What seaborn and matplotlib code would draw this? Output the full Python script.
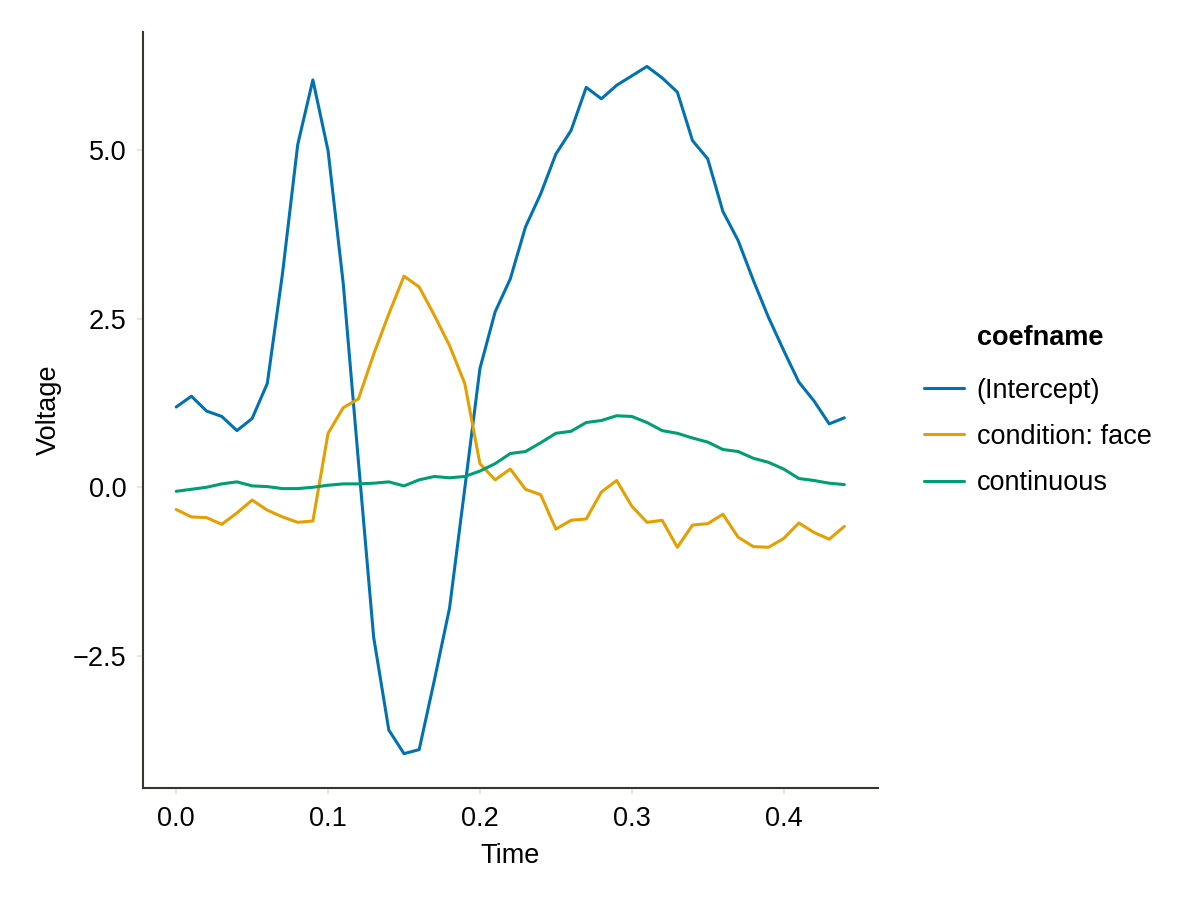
import numpy as np
import pandas as pd
import matplotlib
matplotlib.use("Agg")
import matplotlib.pyplot as plt
import seaborn as sns
from matplotlib.lines import Line2D

time = [round(i * 0.01, 2) for i in range(45)]

intercept = [1.19, 1.35, 1.13, 1.05, 0.84, 1.02, 1.54, 3.17, 5.08, 6.04,
             4.99, 3.02, 0.38, -2.22, -3.60, -3.95, -3.89, -2.86, -1.79, -0.02,
             1.76, 2.60, 3.09, 3.86, 4.35, 4.94, 5.29, 5.93, 5.76, 5.96,
             6.10, 6.24, 6.07, 5.86, 5.14, 4.87, 4.09, 3.66, 3.07, 2.52,
             2.03, 1.56, 1.28, 0.94, 1.03]

condition_face = [-0.33, -0.44, -0.45, -0.55, -0.38, -0.19, -0.34, -0.44, -0.52, -0.50,
                  0.80, 1.18, 1.31, 1.97, 2.57, 3.13, 2.97, 2.55, 2.10, 1.54,
                  0.35, 0.11, 0.27, -0.03, -0.11, -0.62, -0.49, -0.47, -0.07, 0.10,
                  -0.28, -0.52, -0.49, -0.89, -0.56, -0.54, -0.40, -0.74, -0.88, -0.89,
                  -0.76, -0.53, -0.67, -0.77, -0.58]

continuous = [-0.06, -0.03, 0.00, 0.05, 0.08, 0.02, 0.01, -0.02, -0.02, 0.00,
              0.03, 0.05, 0.05, 0.06, 0.08, 0.02, 0.11, 0.16, 0.14, 0.16,
              0.24, 0.35, 0.50, 0.53, 0.66, 0.80, 0.83, 0.96, 0.99, 1.06,
              1.05, 0.96, 0.84, 0.80, 0.73, 0.67, 0.56, 0.53, 0.43, 0.37,
              0.27, 0.13, 0.10, 0.06, 0.04]

coefnames = ["(Intercept)", "condition: face", "continuous"]
series = [intercept, condition_face, continuous]
colors = ["#0072B2", "#E69F00", "#009E73"]
xticks = [0.0, 0.1, 0.2, 0.3, 0.4]
xticklabels = ["0.0", "0.1", "0.2", "0.3", "0.4"]
yticks = [-2.5, 0.0, 2.5, 5.0]
yticklabels = ["\u22122.5", "0.0", "2.5", "5.0"]

df = pd.concat([
    pd.DataFrame({"time": time, "estimate": vals, "coefname": name})
    for name, vals in zip(coefnames, series)
], ignore_index=True)

sns.set_theme(style="white")
plt.rcParams["font.family"] = ["Liberation Sans", "DejaVu Sans"]
plt.rcParams["text.color"] = "black"
plt.rcParams["axes.labelcolor"] = "black"

FS = 19.5

fig = plt.figure(figsize=(12, 9), dpi=100)
ax = fig.add_axes([0.119, 0.1244, 0.6125, 0.84])

sns.lineplot(data=df, x="time", y="estimate", hue="coefname",
             hue_order=coefnames, palette=colors, linewidth=2.2, ax=ax,
             legend=False)

ax.set_xlim(-0.022, 0.462)
ax.set_ylim(-4.46, 6.75)
ax.set_xticks(xticks)
ax.set_xticklabels(xticklabels)
ax.set_yticks(yticks)
ax.set_yticklabels(yticklabels)

ax.set_xlabel("Time", fontsize=FS, labelpad=8)
ax.set_ylabel("Voltage", fontsize=FS, labelpad=7.5)
ax.tick_params(axis="both", labelsize=FS, length=4, width=1.2,
               color="#e9e1d9", direction="out", labelcolor="black",
               bottom=True, left=True)
ax.tick_params(axis="x", pad=9)
ax.tick_params(axis="y", pad=8)

for side in ["top", "right"]:
    ax.spines[side].set_visible(False)
for side in ["left", "bottom"]:
    ax.spines[side].set_color("#3b342d")
    ax.spines[side].set_linewidth(1.5)
ax.grid(False)

handles = [Line2D([0], [0], color=c, lw=2.2) for c in colors]
leg = fig.legend(handles, coefnames, loc="center left",
                 bbox_to_anchor=(0.7495, 0.5145), frameon=False, fontsize=FS,
                 handlelength=1.5, handletextpad=0.45, labelspacing=0.75)
fig.text(977 / 1200, 1 - 338 / 900, "coefname", fontsize=FS,
         fontweight="bold", ha="left", va="center", color="black")

fig.savefig("out.png", dpi=100)
